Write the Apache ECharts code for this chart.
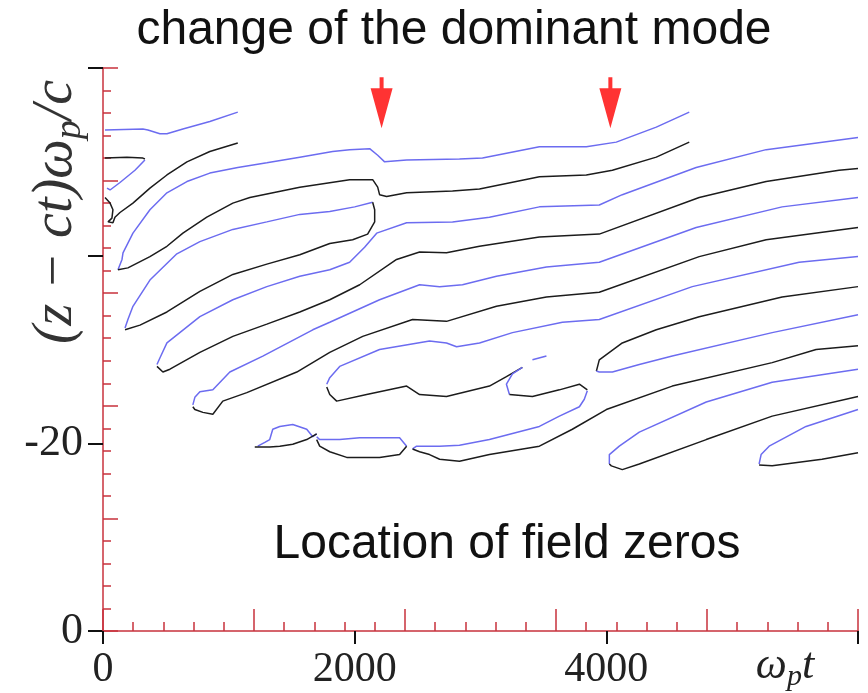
<!DOCTYPE html>
<html><head><meta charset="utf-8">
<script src="https://cdn.jsdelivr.net/npm/echarts@6/dist/echarts.min.js"></script>
<style>html,body{margin:0;padding:0;background:#fff}#c{width:868px;height:693px}</style>
</head><body><div id="c"></div>
<script>
// ---- tick labels ----
const xTickValues = [0, 2000, 4000, 6000];
const xTickLabels = ['0', '2000', '4000', ''];
const yTickValues = [0, -20, -40, -60];
const yTickLabels = ['0', '-20', '', ''];
// ---- annotation arrows (omega_p t positions) ----
const arrowX = [2214, 4032];
const arrowY = -56.3;

// ---- zero-location curves: [omega_p t, (z-ct) omega_p / c] ----
const blueTopShort = [[16,-53.4],[317,-53.5],[357,-53.4],[452,-53.0],[508,-53.0],[635,-53.5],[849,-54.3],[1071,-55.3]];
const loopBlack = [[16,-50.4],[190,-50.5],[317,-50.4],[333,-50.3]];
const loopBlue = [[333,-50.2],[254,-49.1],[135,-47.8],[56,-47.0],[32,-47.2]];
const blackShort = [[16,-46.2],[56,-45.6],[79,-44.9],[71,-44.0],[40,-43.6],[79,-43.5],[95,-44.1],[135,-44.6],[238,-45.6],[373,-47.2],[508,-48.6],[667,-50.0],[849,-51.1],[1071,-52.0]];
const blueU1 = [[119,-38.5],[151,-39.6],[159,-40.3],[238,-42.4],[373,-44.9],[508,-46.7],[667,-47.9],[849,-48.8],[1071,-49.4],[1302,-49.9],[1564,-50.5],[1825,-51.1],[1960,-51.3],[2119,-51.4],[2183,-50.7],[2238,-50.0],[2413,-50.2],[2833,-50.3],[3016,-50.4],[3468,-51.6],[3841,-51.6],[4079,-52.1],[4397,-53.7],[4659,-55.3]];
const blackU1 = [[119,-38.5],[198,-38.7],[373,-39.9],[508,-41.0],[635,-42.4],[825,-44.1],[1032,-45.6],[1167,-46.2],[1564,-47.3],[1960,-48.1],[2143,-48.1],[2183,-47.3],[2198,-46.5],[2254,-46.3],[2413,-46.7],[2778,-46.9],[2992,-47.1],[3468,-48.4],[3841,-48.6],[4048,-49.1],[4397,-50.5],[4659,-52.1]];
const blueU2 = [[175,-32.3],[198,-33.2],[238,-34.6],[373,-37.4],[587,-40.2],[770,-41.5],[1032,-42.8],[1302,-43.6],[1564,-44.4],[1802,-44.7],[2000,-45.2],[2143,-45.7]];
const blackU2 = [[175,-32.1],[190,-32.0],[294,-32.6],[508,-34.0],[770,-36.2],[1032,-38.0],[1302,-39.1],[1564,-40.1],[1802,-41.3],[1984,-41.7],[2103,-42.3],[2159,-43.6],[2159,-44.9],[2143,-45.7]];
const blueU3 = [[429,-28.4],[452,-29.1],[508,-30.7],[770,-33.5],[1032,-35.3],[1302,-36.7],[1564,-37.8],[1802,-38.5],[1960,-39.3],[2079,-40.9],[2175,-42.4],[2413,-43.5],[2778,-43.6],[3071,-44.1],[3468,-45.2],[3944,-45.4],[4127,-46.5],[4714,-49.4],[5270,-51.3],[6000,-52.6]];
const blackU3 = [[429,-28.2],[476,-27.6],[532,-27.9],[770,-29.7],[1032,-31.4],[1302,-32.7],[1564,-34.0],[1802,-35.3],[2040,-36.9],[2333,-39.6],[2516,-40.4],[2730,-40.3],[2992,-41.0],[3468,-42.0],[3944,-42.3],[4738,-46.2],[5270,-47.9],[5849,-49.1],[6000,-49.3]];
const blueU4 = [[714,-24.1],[730,-24.9],[770,-25.5],[873,-25.7],[1008,-27.6],[1270,-29.3],[1667,-32.1],[1802,-32.9],[2198,-35.3],[2516,-36.9],[2675,-36.7],[2857,-36.9],[3127,-37.8],[3524,-38.8],[3944,-39.3],[4714,-43.0],[5397,-45.2],[6000,-46.2]];
const blackU4 = [[714,-23.9],[730,-23.6],[794,-23.3],[873,-23.1],[952,-24.5],[1143,-25.4],[1540,-27.6],[1802,-29.7],[2064,-31.4],[2460,-33.2],[2730,-33.0],[3127,-34.6],[3524,-35.6],[3944,-36.1],[4738,-39.9],[5270,-41.7],[6000,-43.0]];
const blueTongueTop = [[1778,-26.3],[1802,-27.0],[1881,-28.2],[2198,-30.0],[2595,-30.9],[2730,-30.7],[2810,-30.3],[2992,-30.7],[3254,-31.8],[3651,-32.9],[3944,-33.2],[4683,-36.7],[5532,-39.3],[6000,-39.9]];
const blackTongueBottom = [[1778,-26.0],[1802,-25.2],[1857,-24.5],[2095,-25.2],[2413,-26.1],[2516,-25.2],[2730,-25.0],[3071,-26.1],[3206,-27.1],[3333,-28.1]];
const blueHook = [[3333,-28.1],[3254,-27.4],[3206,-26.3],[3230,-25.2]];
const blackHook = [[3230,-25.2],[3413,-25.0],[3627,-25.7],[3786,-26.3],[3849,-25.7]];
const blueReturn = [[3849,-25.6],[3825,-24.7],[3786,-23.9],[3627,-22.9],[3468,-21.8],[3071,-20.4],[2833,-19.8],[2675,-19.7],[2492,-19.7],[2460,-19.4]];
const blackBottom = [[2460,-19.4],[2516,-19.1],[2595,-18.8],[2675,-18.3],[2833,-18.1],[3071,-18.8],[3468,-19.7],[3730,-21.5],[4000,-23.6],[4524,-26.1],[5318,-28.6],[5667,-30.0],[6000,-30.4]];
const black597 = [[3921,-27.7],[3944,-28.9],[4127,-30.7],[4397,-32.1],[4738,-33.5],[5397,-35.6],[6000,-36.7]];
const blue597 = [[3921,-27.7],[3944,-27.6],[4048,-27.6],[4262,-28.4],[4524,-29.3],[5318,-31.8],[6000,-33.7]];
const blue610 = [[4024,-17.8],[4024,-18.8],[4103,-19.7],[4262,-21.2],[4794,-24.4],[5318,-26.5],[6000,-27.9]];
const black610 = [[4024,-17.8],[4040,-17.6],[4127,-17.2],[4262,-17.8],[4794,-20.4],[5318,-22.9],[6000,-25.0]];
const blue760 = [[5214,-17.8],[5230,-18.8],[5294,-19.7],[5587,-21.8],[6000,-23.6]];
const black760 = [[5214,-17.7],[5318,-17.6],[5714,-18.3],[6000,-19.0]];
const blob1Blue = [[1230,-19.7],[1286,-20.1],[1325,-20.4],[1349,-21.5],[1405,-21.8],[1508,-22.0],[1619,-21.5],[1667,-20.7],[1698,-21.0]];
const blob1Black = [[1206,-19.6],[1325,-19.6],[1405,-19.7],[1508,-19.9],[1619,-20.4],[1698,-21.0]];
const blob2Blue = [[1698,-20.7],[1722,-20.4],[1881,-20.4],[2040,-20.6],[2357,-20.6],[2413,-19.7]];
const blob2Black = [[1698,-20.4],[1722,-19.7],[1802,-19.1],[1937,-18.5],[2198,-18.5],[2357,-18.8],[2413,-19.7]];
const blueFragment = [[3413,-28.9],[3524,-29.3]];

const BLUE = '#6c6cf0', BLACK = '#1c1c1c', AXRED = '#c8323c';
const curves = [
  [blueTopShort, BLUE], [loopBlack, BLACK], [loopBlue, BLUE], [blackShort, BLACK],
  [blueU1, BLUE], [blackU1, BLACK], [blueU2, BLUE], [blackU2, BLACK],
  [blueU3, BLUE], [blackU3, BLACK], [blueU4, BLUE], [blackU4, BLACK],
  [blueTongueTop, BLUE], [blackTongueBottom, BLACK], [blueHook, BLUE], [blackHook, BLACK],
  [blueReturn, BLUE], [blackBottom, BLACK], [black597, BLACK], [blue597, BLUE],
  [blue610, BLUE], [black610, BLACK], [blue760, BLUE], [black760, BLACK],
  [blob1Blue, BLUE], [blob1Black, BLACK], [blob2Blue, BLUE], [blob2Black, BLACK],
  [blueFragment, BLUE]
];

const series = curves.map(([d, col]) => ({
  type: 'line', data: d, xAxisIndex: 1, yAxisIndex: 1,
  showSymbol: false, symbol: 'none', smooth: false, silent: true,
  lineStyle: { color: col, width: 1.5 }, z: 3
}));
series.push({
  type: 'scatter', xAxisIndex: 1, yAxisIndex: 1, silent: true, z: 5,
  data: arrowX.map(x => [x, arrowY]),
  symbol: 'path://M8,0 L12,0 L12,11 L21,11 L10,51 L-1,11 L8,11 Z',
  symbolSize: [22, 51], itemStyle: { color: '#ff0000' }
});

const serif = '"Liberation Serif","DejaVu Serif",serif';
const chart = echarts.init(document.getElementById('c'), null, { renderer: 'canvas' });
chart.setOption({
  animation: false,
  backgroundColor: '#ffffff',
  grid: { left: 103, right: 10, top: 68, bottom: 62, containLabel: false, outerBoundsMode: 'none' },
  xAxis: [
    { type: 'value', min: 0, max: 5, interval: 1, position: 'bottom',
      axisLine: { show: true, onZero: false, lineStyle: { color: AXRED, width: 1.5 } },
      axisTick: { show: true, inside: true, length: 22, lineStyle: { color: AXRED, width: 1.5 } },
      minorTick: { show: true, splitNumber: 5, length: 9, lineStyle: { color: AXRED, width: 1.5 } },
      axisLabel: { show: false }, splitLine: { show: false } },
    { type: 'value', min: 0, max: 6000, interval: 2000, position: 'bottom',
      axisLine: { show: false, onZero: false },
      axisTick: { show: true, inside: false, length: 13, lineStyle: { color: '#111', width: 2 } },
      axisLabel: { show: true, margin: 18, fontFamily: serif, fontSize: 42, color: '#222',
        formatter: v => { const i = xTickValues.indexOf(v); return i >= 0 ? xTickLabels[i] : ''; } },
      splitLine: { show: false } }
  ],
  yAxis: [
    { type: 'value', min: 0, max: 5, interval: 1, position: 'left',
      axisLine: { show: true, onZero: false, lineStyle: { color: AXRED, width: 1.5 } },
      axisTick: { show: true, inside: true, length: 15, lineStyle: { color: AXRED, width: 1.5 } },
      minorTick: { show: true, splitNumber: 5, length: 8, lineStyle: { color: AXRED, width: 1.5 } },
      axisLabel: { show: false }, splitLine: { show: false } },
    { type: 'value', min: -60, max: 0, interval: 20, inverse: true, position: 'left',
      axisLine: { show: false, onZero: false },
      axisTick: { show: true, inside: false, length: 15, lineStyle: { color: '#111', width: 2 } },
      axisLabel: { show: true, margin: 20, fontFamily: serif, fontSize: 44, color: '#222',
        formatter: v => { const i = yTickValues.indexOf(v); return i >= 0 ? yTickLabels[i] : ''; } },
      splitLine: { show: false } }
  ],
  graphic: [
    { type: 'text', x: 454, y: 31, silent: true,
      style: { text: 'change of the dominant mode', fill: '#111', align: 'center', verticalAlign: 'middle',
        font: '48px "Liberation Sans", Arial, sans-serif' } },
    { type: 'text', x: 507, y: 545, silent: true,
      style: { text: 'Location of field zeros', fill: '#111', align: 'center', verticalAlign: 'middle',
        font: '48px "Liberation Sans", Arial, sans-serif' } },
    { type: 'text', x: 56, y: 212, rotation: Math.PI / 2, silent: true,
      style: { text: '{m|(z − ct)ω}{s|p}{m|/c}', fill: '#222', align: 'center', verticalAlign: 'middle',
        rich: {
          m: { fontFamily: serif, fontStyle: 'italic', fontSize: 56, lineHeight: 66, fill: '#333' },
          s: { fontFamily: serif, fontStyle: 'italic', fontSize: 38, lineHeight: 66, verticalAlign: 'bottom', fill: '#333' }
        } } },
    { type: 'text', x: 785, y: 666, silent: true,
      style: { text: '{m|ω}{s|p}{m|t}', fill: '#222', align: 'center', verticalAlign: 'middle',
        rich: {
          m: { fontFamily: serif, fontStyle: 'italic', fontSize: 44, lineHeight: 52, fill: '#222' },
          s: { fontFamily: serif, fontStyle: 'italic', fontSize: 30, lineHeight: 52, verticalAlign: 'bottom', fill: '#222' }
        } } }
  ],
  series: series
});
</script></body></html>
